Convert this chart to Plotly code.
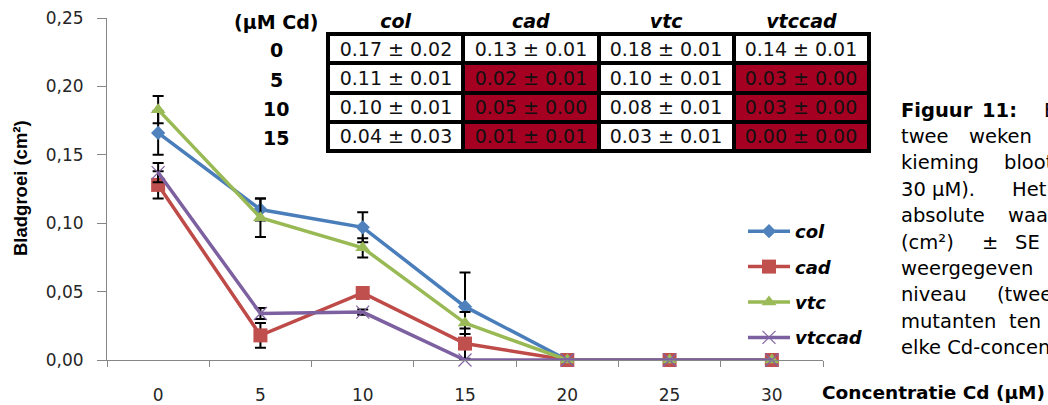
import plotly.graph_objects as go

W, H = 1048, 405

# ---------------- data ----------------
conc = ["0", "5", "10", "15", "20", "25", "30"]
col = [0.166, 0.110, 0.097, 0.039, 0.0, 0.0, 0.0]
cad = [0.128, 0.018, 0.049, 0.012, 0.0, 0.0, 0.0]
vtc = [0.183, 0.104, 0.082, 0.027, 0.0, 0.0, 0.0]
vtccad = [0.137, 0.034, 0.035, 0.0, 0.0, 0.0, 0.0]
# standard errors (measured for 0-15 µM)
col_err = [0.016, 0.008, 0.011, 0.025]
cad_err = [0.010, 0.009, 0.003, 0.011]
vtc_err = [0.010, 0.014, 0.007, 0.008]
vtccad_err = [0.007, 0.004, 0.002, 0.0]

# inset table
table_head = ["col", "cad", "vtc", "vtccad"]
table_rows = ["0", "5", "10", "15"]
table_col = ["0.17 ± 0.02", "0.11 ± 0.01", "0.10 ± 0.01", "0.04 ± 0.03"]
table_cad = ["0.13 ± 0.01", "0.02 ± 0.01", "0.05 ± 0.00", "0.01 ± 0.01"]
table_vtc = ["0.18 ± 0.01", "0.10 ± 0.01", "0.08 ± 0.01", "0.03 ± 0.01"]
table_vtccad = ["0.14 ± 0.01", "0.03 ± 0.00", "0.03 ± 0.00", "0.00 ± 0.00"]
sig_col = [0, 0, 0, 0]
sig_cad = [0, 1, 1, 1]
sig_vtc = [0, 0, 0, 0]
sig_vtccad = [0, 1, 1, 1]

caption_lines = [
    [("<b>Figuur</b>", 899), ("<b>11:</b>", 980), ("Bladgroei", 1042)],
    [("twee", 899), ("weken", 967)],
    [("kieming", 899), ("blootgesteld", 1002)],
    [("30 µM).", 899), ("Het", 1010)],
    [("absolute", 899), ("waarden", 1006)],
    [("(cm²)", 899), ("±", 980), ("SE", 1013)],
    [("weergegeven", 899)],
    [("niveau", 899), ("(twee", 995)],
    [("mutanten", 899), ("ten", 1007)],
    [("elke Cd-concentratie", 899)],
]

# ---------------- styles ----------------
series = [
    ("col", col, col_err, "#4A7EBB", "#4F81BD", "diamond", 11),
    ("cad", cad, cad_err, "#BE4B48", "#C0504D", "square", 14),
    ("vtc", vtc, vtc_err, "#98B954", "#9BBB59", "triangle-up", 13),
    ("vtccad", vtccad, vtccad_err, "#7D60A0", "#8064A2", "x-thin-open", 13),
]

fig = go.Figure()
for name, vals, err, lc, mc, sym, ms in series:
    mk = dict(symbol=sym, size=ms, color=mc)
    if sym.startswith("x-thin"):
        mk = dict(symbol=sym, size=ms, color=mc, line=dict(color="#9C88C0", width=1.2))
    fig.add_trace(go.Scatter(
        x=conc, y=vals, name=name, mode="lines+markers",
        line=dict(color=lc, width=3.5),
        marker=mk,
        error_y=dict(type="data", array=err, visible=True,
                     color="black", thickness=2, width=5.5),
        cliponaxis=False,
        legendgroup=name,
    ))

# table drawn as a heatmap on its own axes (white / red cells, black gaps)
red = "#A50021"
sig_cols = [sig_col, sig_cad, sig_vtc, sig_vtccad]
txt_cols = [table_col, table_cad, table_vtc, table_vtccad]
z = [[sig_cols[c][r] for c in range(4)] for r in range(4)]
txt = [[txt_cols[c][r] for c in range(4)] for r in range(4)]
fig.add_trace(go.Heatmap(
    x=table_head, y=table_rows, z=z, text=txt, texttemplate="%{text}",
    textfont=dict(family="DejaVu Sans", size=19, color="#111111"),
    colorscale=[[0, "white"], [1, red]], zmin=0, zmax=1, showscale=False,
    xgap=4, ygap=4, xaxis="x2", yaxis="y2", hoverinfo="skip", showlegend=False,
))

TX0, TX1, TY0, TY1 = 328, 869, 34, 151  # table box in pixels
tickfont = dict(family="DejaVu Sans", size=17, color="#262626")
fig.update_layout(
    width=W, height=H,
    margin=dict(l=0, r=0, t=0, b=0, autoexpand=False),
    paper_bgcolor="white", plot_bgcolor="rgba(0,0,0,0)",
    separators=",.",
    showlegend=True,
    legend=dict(
        x=743 / W, y=(H - 213) / H, xanchor="left", yanchor="top",
        font=dict(family="DejaVu Sans", size=18, color="black",
                  weight="bold", style="italic"),
        bgcolor="rgba(0,0,0,0)", tracegroupgap=9, traceorder="grouped",
        itemwidth=42,
    ),
    xaxis=dict(
        domain=[107 / W, 823 / W], type="category", range=[-0.5, 6.5],
        showline=True, linecolor="#868686", linewidth=1,
        ticks="outside", tickson="boundaries", ticklen=6, tickcolor="#868686",
        showgrid=False, zeroline=False, tickfont=tickfont,
        ticklabelstandoff=20,
    ),
    yaxis=dict(
        domain=[45 / H, 387 / H], range=[0, 0.25], dtick=0.05, tickformat=".2f",
        showline=True, linecolor="#868686", linewidth=1,
        ticks="outside", ticklen=9, tickcolor="#868686",
        showgrid=False, zeroline=False, tickfont=tickfont,
        ticklabelstandoff=10,
    ),
    xaxis2=dict(
        domain=[TX0 / W, TX1 / W], anchor="y2", side="top", type="category",
        range=[-0.5, 3.5], showline=False, showgrid=False, zeroline=False,
        ticks="", ticklabelstandoff=1,
        tickfont=dict(family="DejaVu Sans", size=19, color="black",
                      weight="bold", style="italic"),
    ),
    yaxis2=dict(
        domain=[(H - TY1) / H, (H - TY0) / H], anchor="x2", type="category",
        categoryorder="array", categoryarray=table_rows,
        range=[3.5, -0.5], showline=False, showgrid=False, zeroline=False,
        showticklabels=False, ticks="",
    ),
    shapes=[dict(
        type="rect", xref="x2 domain", yref="y2 domain", layer="below",
        x0=-2 / (TX1 - TX0), x1=1 + 2 / (TX1 - TX0),
        y0=-2 / (TY1 - TY0), y1=1 + 2 / (TY1 - TY0),
        fillcolor="black", line=dict(width=0),
    )],
)

annotations = [
    dict(text="<b>Bladgroei (cm²)</b>", textangle=-90, x=20 / W, y=(H - 188) / H,
         xref="paper", yref="paper", showarrow=False, xanchor="center", yanchor="middle",
         font=dict(family="Liberation Sans", size=18.5, color="black")),
    dict(text="<b>Concentratie Cd (µM)</b>", x=1047 / W, y=(H - 392) / H,
         xref="paper", yref="paper", showarrow=False, xanchor="right", yanchor="middle",
         font=dict(family="DejaVu Sans", size=18.5, color="black")),
    dict(text="<b>(µM Cd)</b>", x=276 / W, y=(H - 22) / H,
         xref="paper", yref="paper", showarrow=False, xanchor="center", yanchor="middle",
         font=dict(family="DejaVu Sans", size=19, color="black")),
]
for i, r in enumerate(table_rows):
    annotations.append(dict(
        text="<b>%s</b>" % r, x=276 / W, y=i + 0.06, xref="paper", yref="y2",
        showarrow=False, xanchor="center", yanchor="middle",
        font=dict(family="DejaVu Sans", size=19, color="black")))
for li, words in enumerate(caption_lines):
    yc = 110 + 26.4 * li
    for t, xs in words:
        annotations.append(dict(
            text=t, x=xs / W, y=(H - yc) / H, xref="paper", yref="paper",
            showarrow=False, xanchor="left", yanchor="middle",
            font=dict(family="DejaVu Sans", size=19.5, color="black")))
fig.update_layout(annotations=annotations)

fig.write_html("out.html")
